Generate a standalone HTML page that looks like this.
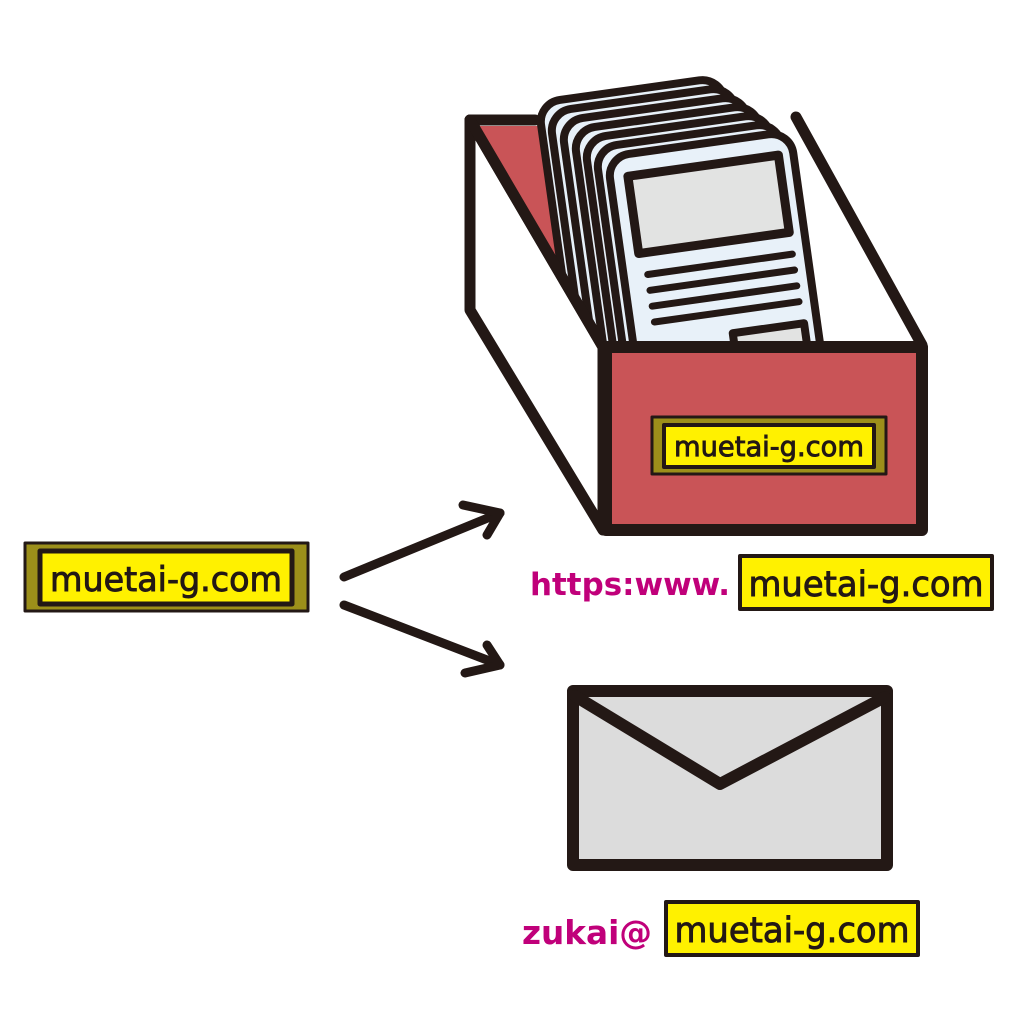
<!DOCTYPE html>
<html><head><meta charset="utf-8"><style>html,body{margin:0;padding:0;background:#fff}svg{display:block}</style></head><body>
<svg width="1024" height="1024" viewBox="0 0 1024 1024" xmlns="http://www.w3.org/2000/svg">
<defs><clipPath id="c"><polygon points="470,120 603,347 1000,347 1000,0 470,0"/></clipPath></defs>
<g stroke="#231815" stroke-linejoin="round" stroke-linecap="round">
<polygon points="470,120 603,347 603,530 470,310" fill="#fff" stroke-width="11"/>
<polygon points="478,126 545,126 575,290" fill="#c95457" stroke="none"/>
<line x1="470" y1="120" x2="535" y2="120" stroke-width="11"/>
<g stroke-width="8" fill="#e8f1f9" clip-path="url(#c)">
<rect x="0" y="0" width="185" height="320" rx="22" transform="translate(538,103) rotate(-8)"/>
<rect x="0" y="0" width="185" height="320" rx="22" transform="translate(549,112) rotate(-8)"/>
<rect x="0" y="0" width="185" height="320" rx="22" transform="translate(561,121) rotate(-8)"/>
<rect x="0" y="0" width="185" height="320" rx="22" transform="translate(573,130) rotate(-8)"/>
<rect x="0" y="0" width="185" height="320" rx="22" transform="translate(584,139) rotate(-8)"/>
<rect x="0" y="0" width="185" height="320" rx="22" transform="translate(595,148) rotate(-8)"/>
<g transform="translate(607,157) rotate(-8)">
<rect x="0" y="0" width="185" height="320" rx="22"/>
<rect x="18" y="22" width="152" height="78" fill="#e2e3e2" stroke-width="9"/>
<g stroke-width="7"><line x1="24" y1="122" x2="170" y2="122"/><line x1="24" y1="138" x2="170" y2="138"/><line x1="24" y1="154" x2="170" y2="154"/><line x1="24" y1="170" x2="170" y2="170"/></g>
<rect x="100" y="192" width="72" height="60" fill="#e2e3e2" stroke-width="8"/>
</g>
</g>
<line x1="470" y1="120" x2="603" y2="347" stroke-width="11"/>
<line x1="796" y1="117" x2="922" y2="345" stroke-width="11"/>
<rect x="606" y="347" width="316" height="183" fill="#c95457" stroke-width="12"/>
<rect x="652" y="417" width="234" height="57" fill="#9c8f1a" stroke-width="3"/>
<rect x="664" y="425" width="210" height="42" fill="#fff100" stroke-width="4"/>
<rect x="25" y="543" width="283" height="68" fill="#9c8f1a" stroke-width="3"/>
<rect x="40" y="551" width="252" height="53" fill="#fff100" stroke-width="5"/>
<g stroke-width="9" fill="none">
<line x1="344" y1="577" x2="500" y2="513"/><polyline points="463,505 500,513 487,535"/>
<line x1="344" y1="605" x2="500" y2="665"/><polyline points="487,645 500,665 465,673"/>
</g>
<rect x="573" y="691" width="314" height="174" fill="#dcdcdc" stroke-width="12"/>
<polyline points="575,696 720,784 885,697" fill="none" stroke-width="12"/>
<rect x="740" y="556" width="252" height="53" fill="#fff100" stroke-width="4"/>
<rect x="666" y="902" width="252" height="53" fill="#fff100" stroke-width="4"/>
</g>
<g font-family="DejaVu Sans, sans-serif" fill="#231815" stroke="#231815" stroke-width="0.9">
<text x="769" y="456" font-size="28" text-anchor="middle" textLength="190" lengthAdjust="spacingAndGlyphs">muetai-g.com</text>
<text x="166" y="591" font-size="34" text-anchor="middle" textLength="232" lengthAdjust="spacingAndGlyphs">muetai-g.com</text>
<text x="866" y="596" font-size="35" text-anchor="middle" textLength="235" lengthAdjust="spacingAndGlyphs">muetai-g.com</text>
<text x="792" y="942" font-size="35" text-anchor="middle" textLength="235" lengthAdjust="spacingAndGlyphs">muetai-g.com</text>
</g>
<g font-family="DejaVu Sans, sans-serif" fill="#c0007a" font-weight="bold">
<text x="530" y="595" font-size="31" textLength="200" lengthAdjust="spacingAndGlyphs">https:www.</text>
<text x="522" y="944" font-size="33" textLength="130" lengthAdjust="spacingAndGlyphs">zukai@</text>
</g>
</svg>
</body></html>
